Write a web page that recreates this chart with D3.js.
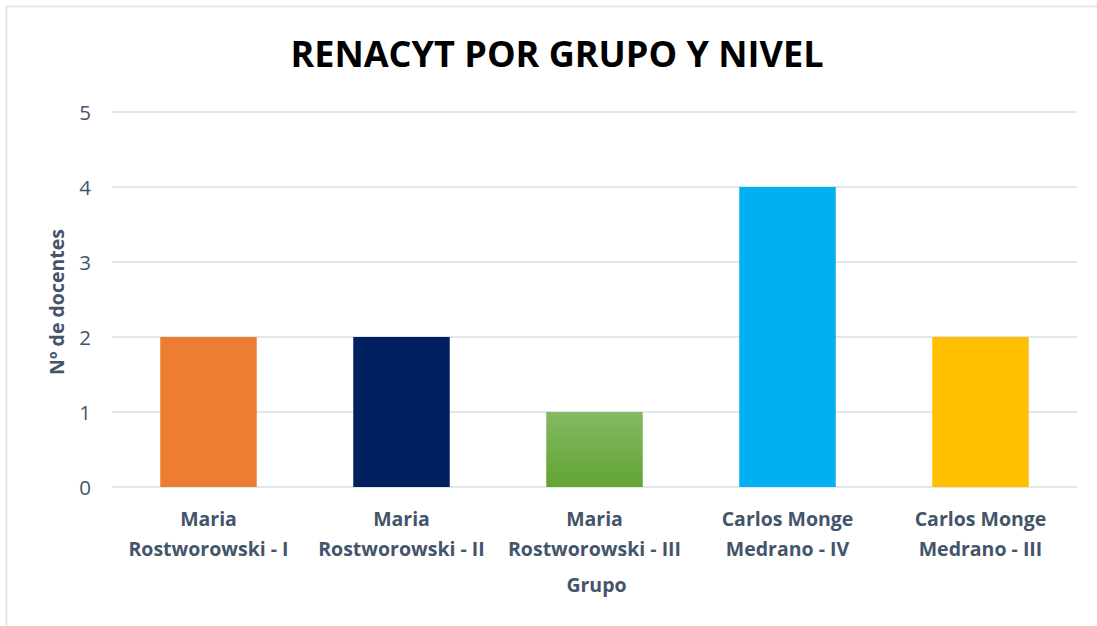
<!DOCTYPE html>
<html><head><meta charset="utf-8">
<script src="https://cdn.jsdelivr.net/npm/d3@7"></script>
<style>html,body{margin:0;padding:0;background:#fff;}svg{display:block;}</style>
</head><body>
<svg id="chart" width="1097" height="626"></svg>
<script>
const categories = [
  ["Maria", "Rostworowski - I"],
  ["Maria", "Rostworowski - II"],
  ["Maria", "Rostworowski - III"],
  ["Carlos Monge", "Medrano - IV"],
  ["Carlos Monge", "Medrano - III"]
];
const values = [2, 2, 1, 4, 2];
const colors = ["#ED7D31", "#002060", "url(#greenGrad)", "#00B0F0", "#FFC000"];
const yTicks = [0, 1, 2, 3, 4, 5];
const title = "RENACYT POR GRUPO Y NIVEL";
const xTitle = "Grupo";
const yTitle = "Nº de docentes";

(function () {
const svg = d3.select("#chart");
const font = "Open Sans, Noto Sans, sans-serif";
const textColor = "#44546A";

// chart border
svg.append("rect").attr("x", 6.5).attr("y", 6.5).attr("width", 1100).attr("height", 640)
  .attr("fill", "none").attr("stroke", "#E3E7EC").attr("stroke-width", 2);

const defs = svg.append("defs");
const g = defs.append("linearGradient").attr("id", "greenGrad").attr("x1", 0).attr("y1", 0).attr("x2", 0).attr("y2", 1);
g.append("stop").attr("offset", "0%").attr("stop-color", "#84BA62");
g.append("stop").attr("offset", "100%").attr("stop-color", "#62A432");

const mLeft = 112, mRight = 1077, mTop = 112, mBottom = 487;
const x = d3.scaleBand().domain(d3.range(categories.length)).range([mLeft, mRight]).paddingInner(0.5).paddingOuter(0.25);
const y = d3.scaleLinear().domain([0, 5]).range([mBottom, mTop]);

// gridlines
svg.append("g").selectAll("line").data(yTicks).join("line")
  .attr("x1", mLeft).attr("x2", mRight)
  .attr("y1", d => y(d)).attr("y2", d => y(d))
  .attr("stroke", "#E3E7EC").attr("stroke-width", 2);

// y axis labels
const yAxis = d3.axisLeft(y).tickValues(yTicks).tickSize(0).tickPadding(0).tickFormat(d3.format("d"));
const ya = svg.append("g").attr("transform", `translate(${mLeft - 21},0)`).call(yAxis);
ya.select(".domain").remove();
ya.selectAll("text").attr("font-family", font).attr("font-size", 20.5).attr("fill", textColor).attr("dy", "0.35em");

// bars
svg.append("g").selectAll("rect").data(values).join("rect")
  .attr("x", (d, i) => x(i)).attr("width", x.bandwidth())
  .attr("y", d => y(d)).attr("height", d => y(0) - y(d))
  .attr("fill", (d, i) => colors[i]);

// x labels
const xl = svg.append("g");
categories.forEach((c, i) => {
  const t = xl.append("text").attr("x", x(i) + x.bandwidth() / 2).attr("text-anchor", "middle")
    .attr("font-family", font).attr("font-size", 19.5).attr("font-weight", "bold").attr("fill", textColor);
  c.forEach((line, j) => {
    t.append("tspan").attr("x", x(i) + x.bandwidth() / 2).attr("y", 526 + j * 30).text(line);
  });
});

// axis titles
svg.append("text").attr("x", (mLeft + mRight) / 2 + 2).attr("y", 592).attr("text-anchor", "middle")
  .attr("font-family", font).attr("font-size", 19.5).attr("font-weight", "bold").attr("fill", textColor).text(xTitle);
svg.append("text").attr("transform", "translate(64,302) rotate(-90)").attr("text-anchor", "middle")
  .attr("font-family", font).attr("font-size", 19.5).attr("font-weight", "bold").attr("fill", textColor).text(yTitle);

// title
svg.append("text").attr("x", 557).attr("y", 67).attr("text-anchor", "middle")
  .attr("font-family", font).attr("font-size", 36).attr("font-weight", "bold").attr("fill", "#000")
  .attr("textLength", 533).attr("lengthAdjust", "spacingAndGlyphs").text(title);
})();
</script>
</body></html>
